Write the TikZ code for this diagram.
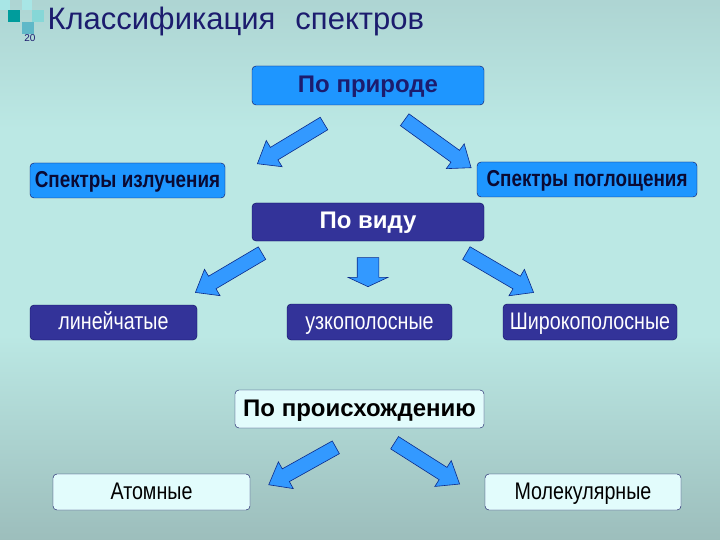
\documentclass[tikz,border=0pt]{standalone}
\usepackage{fontspec}
\setmainfont{Liberation Sans}
\newfontfamily\narrowfont[FakeStretch=0.82]{Liberation Sans}
\usetikzlibrary{shapes.arrows, calc}
\definecolor{titleNavy}{HTML}{1C1C6E}
\definecolor{edgeNavy}{HTML}{0B0B5C}
\definecolor{inkNavy}{HTML}{0A0A33}
\definecolor{boxBlue}{HTML}{1E96FF}
\definecolor{boxIndigo}{HTML}{333399}
\definecolor{boxCyan}{HTML}{E2FCFC}
\definecolor{arrowBlue}{HTML}{3399FF}
\definecolor{arrowEdge}{HTML}{0A2A8A}
\definecolor{bgTop}{HTML}{8FA9A8}
\definecolor{bgUp}{HTML}{A7CBCA}
\definecolor{bgMid}{HTML}{BBE8E4}
\definecolor{bgLow}{HTML}{9EC0BE}
\definecolor{bgBot}{HTML}{7A9391}
\definecolor{tileTeal}{HTML}{009C9C}
\definecolor{tilePale}{HTML}{A8E6E6}
\definecolor{tileMid}{HTML}{5FB8C8}
\pgfdeclareverticalshading{slideBg}{100bp}{color(0bp)=(bgBot); color(26bp)=(bgLow);
  color(44bp)=(bgMid); color(63bp)=(bgMid); color(81bp)=(bgUp); color(100bp)=(bgTop)}

% block arrow from tail coordinate to tip coordinate
\newcommand{\blockarrow}[3][]{%
  \path let \p1=($(#3)-(#2)$), \n1={veclen(\x1,\y1)} in
    (#2) -- node[blockArr, sloped, allow upside down, pos=1, anchor=tip,
      minimum height=\n1, #1] {} (#3);}

\begin{document}
\begin{tikzpicture}[x=1pt, y=-1pt,
    box/.style={draw=edgeNavy, thin, rounded corners=4pt, align=center, inner sep=0pt,
      text height=18pt, text depth=4pt},
    headBlue/.style={box, fill=boxBlue, text=titleNavy, font=\fontsize{24}{26}\selectfont\bfseries},
    leafBlue/.style={box, fill=boxBlue, text=inkNavy, font=\narrowfont\fontsize{23}{25}\selectfont\bfseries},
    headIndigo/.style={box, fill=boxIndigo, text=white, font=\fontsize{24}{26}\selectfont\bfseries},
    leafIndigo/.style={box, fill=boxIndigo, text=white, font=\narrowfont\fontsize{24}{26}\selectfont},
    headCyan/.style={box, fill=boxCyan, text=black, font=\fontsize{24}{26}\selectfont\bfseries},
    leafCyan/.style={box, fill=boxCyan, text=black, font=\narrowfont\fontsize{24}{26}\selectfont},
    blockArr/.style={single arrow, draw=arrowEdge, fill=arrowBlue, line width=0.6pt,
      inner xsep=0pt, inner ysep=7pt, single arrow head extend=8pt,
      single arrow tip angle=76},
    tile/.style={draw=none, minimum size=#1, inner sep=0pt, anchor=north west}]
  \useasboundingbox (0,0) rectangle (720,540);
  \shade[shading=slideBg] (0,0) rectangle (720,540);

  % slide corner
  \node[tile=10, fill=tilePale] (t1) at (0,0) {};
  \node[tile=12, fill=tileTeal] (t2) at (8,10) {};
  \node[tile=10, fill=tilePale] (t3) at (22,0) {};
  \node[tile=12, fill=tilePale!80!tileTeal] (t4) at (32,10) {};
  \node[tile=12, fill=tileMid] (t5) at (22,22) {};
  \node[font=\fontsize{10}{11}\selectfont, text=titleNavy] (slideNo) at (30,38) {20};
  \node[anchor=west, text=titleNavy, font=\fontsize{31}{35}\selectfont] (title) at (44,21)
    {Классификация\hspace{20pt}спектров};

  % by nature
  \node[headBlue, minimum width=232, minimum height=39] (nature) at (368,85.5) {По природе};
  \node[leafBlue, minimum width=195, minimum height=35] (emission) at (127.5,180.5) {Спектры излучения};
  \node[leafBlue, minimum width=220, minimum height=35] (absorption) at (587,179.5) {Спектры поглощения};

  % by kind
  \node[headIndigo, minimum width=232, minimum height=38] (kind) at (368,222) {По виду};
  \node[leafIndigo, minimum width=167, minimum height=35] (lineSp) at (113.5,322.5) {линейчатые};
  \node[leafIndigo, minimum width=165, minimum height=36] (narrowSp) at (369.5,322) {узкополосные};
  \node[leafIndigo, minimum width=174, minimum height=36] (wideSp) at (590,322) {Широкополосные};

  % by origin
  \node[headCyan, minimum width=249, minimum height=38] (origin) at (359.5,409) {По происхождению};
  \node[leafCyan, minimum width=197, minimum height=36] (atomic) at (151.5,492) {Атомные};
  \node[leafCyan, minimum width=196, minimum height=36] (molecular) at (583,492) {Молекулярные};

  % arrow ends
  \coordinate (natL0) at (323.7,123.7);  \coordinate (natL1) at (257,164);
  \coordinate (natR0) at (405,120);      \coordinate (natR1) at (471.5,168);
  \coordinate (kindL0) at (261.7,253.3); \coordinate (kindL1) at (195,292.7);
  \coordinate (kindD0) at (368,258);     \coordinate (kindD1) at (368,287);
  \coordinate (kindR0) at (466.7,253.3); \coordinate (kindR1) at (534,292.7);
  \coordinate (origL0) at (335.5,447.5); \coordinate (origL1) at (268.3,485);
  \coordinate (origR0) at (395,443);     \coordinate (origR1) at (460,484.3);

  \blockarrow{natL0}{natL1}
  \blockarrow{natR0}{natR1}
  \blockarrow{kindL0}{kindL1}
  \blockarrow[inner ysep=10.5pt, single arrow head extend=9pt, single arrow tip angle=130]{kindD0}{kindD1}
  \blockarrow{kindR0}{kindR1}
  \blockarrow{origL0}{origL1}
  \blockarrow{origR0}{origR1}
\end{tikzpicture}
\end{document}
